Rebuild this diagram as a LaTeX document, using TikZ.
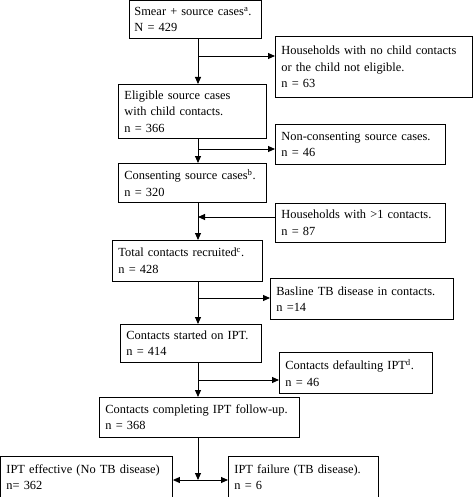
\documentclass[tikz,border=0pt]{standalone}
\usepackage{fontspec}
\setmainfont{Liberation Serif}
\usetikzlibrary{arrows.meta}

\tikzset{
    box/.style={draw, line width=0.9pt, anchor=north west, inner xsep=6pt, inner ysep=0pt,
        align=left, font=\fontsize{12.4}{16.4}\selectfont},
    sz/.style 2 args={text width=#1, minimum height=#2},
    arr/.style={line width=0.9pt, -{Triangle[length=7pt,width=6pt]}},
}

\begin{document}
\begin{tikzpicture}[x=1pt, y=-1pt]
    \useasboundingbox (0,0) rectangle (473,497);
    % main column
    \node[box, inner xsep=5pt, sz={122pt}{38pt}] (smear) at (129,0) {Smear + source cases\textsuperscript{a}.\\N = 429};
    \node[box, sz={136pt}{54pt}] (eligible) at (118,84) {Eligible source cases\\with child contacts.\\n = 366};
    \node[box, sz={136pt}{39pt}] (consent) at (118,163) {Consenting source cases\textsuperscript{b}.\\n = 320};
    \node[box, sz={138pt}{41pt}] (total) at (112,240) {Total contacts recruited\textsuperscript{c}.\\n = 428};
    \node[box, sz={129pt}{38pt}] (started) at (120,324) {Contacts started on IPT.\\n = 414};
    \node[box, sz={188pt}{40pt}] (complete) at (99,397) {Contacts completing IPT follow-up.\\n = 368};
    \node[box, sz={160pt}{41pt}] (effective) at (0,456) {IPT effective (No TB disease)\\n= 362};
    \node[box, sz={138pt}{41pt}] (failure) at (228,456) {IPT failure (TB disease).\\n = 6};
    % side boxes
    \node[box, sz={185pt}{61pt}] (nochild) at (275,36) {Households with no child contacts\\or the child not eligible.\\n = 63};
    \node[box, sz={158pt}{40pt}] (nonconsent) at (275,124) {Non-consenting source cases.\\n = 46};
    \node[box, sz={158pt}{39pt}] (multi) at (275,203) {Households with >1 contacts.\\n = 87};
    \node[box, sz={171pt}{41pt}] (baseline) at (270,278) {Basline TB disease in contacts.\\n =14};
    \node[box, sz={141pt}{41pt}] (default) at (279,352) {Contacts defaulting IPT\textsuperscript{d}.\\n = 46};

    \coordinate (spine) at (198,0);
    \coordinate (j1) at (198,56);
    \coordinate (j2) at (198,149);
    \coordinate (j3) at (198,217);
    \coordinate (j4) at (198,298);
    \coordinate (j5) at (198,380);
    \coordinate (j6) at (198,480);

    \draw[arr] (smear.south -| spine) -- (eligible.north -| spine);
    \draw[arr] (eligible.south -| spine) -- (consent.north -| spine);
    \draw[arr] (consent.south -| spine) -- (total.north -| spine);
    \draw[arr] (total.south -| spine) -- (started.north -| spine);
    \draw[arr] (started.south -| spine) -- (complete.north -| spine);
    \draw[arr] (complete.south -| spine) -- (j6);

    \draw[arr] (j1) -- (j1 -| nochild.west);
    \draw[arr] (j2) -- (j2 -| nonconsent.west);
    \draw[arr] (j3 -| multi.west) -- (j3);
    \draw[arr] (j4) -- (j4 -| baseline.west);
    \draw[arr] (j5) -- (j5 -| default.west);
    \draw[arr] (j6) -- (j6 -| effective.east);
    \draw[arr] (j6) -- (j6 -| failure.west);
\end{tikzpicture}
\end{document}
